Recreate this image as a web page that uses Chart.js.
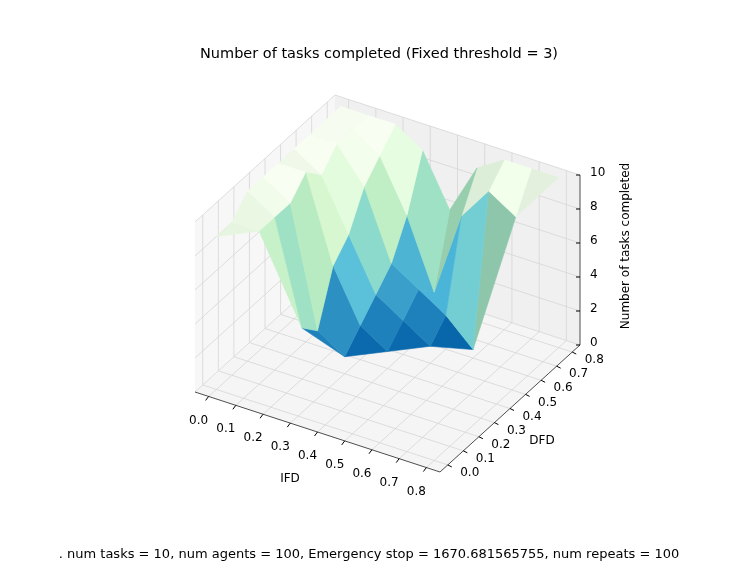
<!DOCTYPE html>
<html>
<head>
<meta charset="utf-8">
<script src="https://cdn.jsdelivr.net/npm/chart.js@4"></script>
<style>
  body { margin: 0; background: #fff; }
  #wrap { width: 739px; height: 561px; }
</style>
</head>
<body>
<div id="wrap"><canvas id="surf"></canvas></div>
<script>
// grid values
const ifdValues = [0.0, 0.1, 0.2, 0.3, 0.4, 0.5, 0.6, 0.7, 0.8];
const dfdValues = [0.0, 0.1, 0.2, 0.3, 0.4, 0.5, 0.6, 0.7, 0.8];
// tasks completed, rows = DFD, columns = IFD (only IFD <= DFD measured)
const tasksDone = [
    [9],
    [9, 9],
    [10, 9, 3],
    [10, 9, 2, 1],
    [10, 10, 5, 2, 1],
    [10, 9, 6, 3, 2, 1],
    [10, 10, 8, 4, 3, 2, 0.5],
    [10, 10, 9, 6, 2, 7, 9, 8],
    [10, 10, 10, 9, 6, 9, 10, 10, 10]
];
const ifdTicks = ['0.0', '0.1', '0.2', '0.3', '0.4', '0.5', '0.6', '0.7', '0.8'];
const dfdTicks = ['0.0', '0.1', '0.2', '0.3', '0.4', '0.5', '0.6', '0.7', '0.8'];
const zTicks = [0, 2, 4, 6, 8, 10];

// box ranges
const xr = [-0.05, 0.85], yr = [-0.05, 0.85], zr = [0, 10];
const origin = [195, 392], ex = [245, 80], ey = [140, -127], ez = [0, -170];

function proj(x, y, z) {
    const u = (x - xr[0]) / (xr[1] - xr[0]);
    const v = (y - yr[0]) / (yr[1] - yr[0]);
    const w = (z - zr[0]) / (zr[1] - zr[0]);
    return { x: origin[0] + u * ex[0] + v * ey[0] + w * ez[0],
             y: origin[1] + u * ex[1] + v * ey[1] + w * ez[1] };
}

// GnBu reversed
const cmap = [[8,64,129],[8,104,172],[43,140,190],[78,179,211],[123,204,196],[168,221,181],[204,235,197],[224,243,219],[247,252,240]];
function colorFor(z, shade) {
    const t = Math.max(0, Math.min(1, z / 10)) * (cmap.length - 1);
    const i = Math.min(cmap.length - 2, Math.floor(t)), f = t - i;
    const c = cmap[i].map((a, k) => (a + (cmap[i + 1][k] - a) * f) * shade);
    return 'rgb(' + c.map(v => Math.round(Math.min(255, v))).join(',') + ')';
}

// build faces
const faces = [];
function addFace(corners) {
    const zs = corners.map(c => tasksDone[c[1]][c[0]]);
    if (zs.some(z => z === undefined)) return;
    const avg = zs.reduce((a, b) => a + b, 0) / zs.length;
    const a = corners[0], b = corners[1], c = corners[2];
    const dzx = (tasksDone[b[1]][b[0]] - tasksDone[a[1]][a[0]]) * (b[0] !== a[0] ? 1 : 0);
    const dzy = (tasksDone[c[1]][c[0]] - tasksDone[b[1]][b[0]]) * (c[1] !== b[1] ? 1 : 0);
    const shade = Math.max(0.92, Math.min(1.05, 1 - dzx * 0.015 + dzy * 0.01));
    const cx = corners.reduce((s, p) => s + p[0], 0) / corners.length;
    const cy = corners.reduce((s, p) => s + p[1], 0) / corners.length;
    faces.push({
        depth: 0.5 * cx - 0.866 * cy,
        color: colorFor(avg, shade),
        pts: corners.map(p => proj(ifdValues[p[0]], dfdValues[p[1]], tasksDone[p[1]][p[0]]))
    });
}
for (let j = 0; j < dfdValues.length - 1; j++) {
    for (let i = 0; i <= j; i++) {
        if (i < j) addFace([[i, j], [i + 1, j], [i + 1, j + 1], [i, j + 1]]);
        else addFace([[i, j], [i + 1, j + 1], [i, j + 1]]);
    }
}
faces.sort((a, b) => a.depth - b.depth);

const datasets = faces.map(f => ({
    data: f.pts.concat([f.pts[0]]),
    showLine: true,
    fill: 'shape',
    backgroundColor: f.color,
    borderColor: f.color,
    borderWidth: 0.6,
    pointRadius: 0,
    tension: 0
}));

function line(ctx, sx, sy, a, b) {
    ctx.beginPath();
    ctx.moveTo(sx(a.x), sy(a.y));
    ctx.lineTo(sx(b.x), sy(b.y));
    ctx.stroke();
}
function poly(ctx, sx, sy, pts, fill) {
    ctx.beginPath();
    pts.forEach((p, k) => k ? ctx.lineTo(sx(p.x), sy(p.y)) : ctx.moveTo(sx(p.x), sy(p.y)));
    ctx.closePath();
    ctx.fillStyle = fill;
    ctx.fill();
}

const boxPlugin = {
    id: 'box3d',
    beforeDatasetsDraw(chart) {
        const ctx = chart.ctx;
        const sx = v => chart.scales.x.getPixelForValue(v);
        const sy = v => chart.scales.y.getPixelForValue(v);
        ctx.save();
        // panes
        poly(ctx, sx, sy, [proj(xr[0], yr[0], 0), proj(xr[1], yr[0], 0), proj(xr[1], yr[1], 0), proj(xr[0], yr[1], 0)], '#f5f5f5');
        poly(ctx, sx, sy, [proj(xr[0], yr[0], 0), proj(xr[0], yr[1], 0), proj(xr[0], yr[1], 10), proj(xr[0], yr[0], 10)], '#f7f7f7');
        poly(ctx, sx, sy, [proj(xr[0], yr[1], 0), proj(xr[1], yr[1], 0), proj(xr[1], yr[1], 10), proj(xr[0], yr[1], 10)], '#f0f0f0');
        ctx.strokeStyle = '#d6d6d6';
        ctx.lineWidth = 0.8;
        ifdValues.forEach(v => {
            line(ctx, sx, sy, proj(v, yr[0], 0), proj(v, yr[1], 0));
            line(ctx, sx, sy, proj(v, yr[1], 0), proj(v, yr[1], 10));
        });
        dfdValues.forEach(v => {
            line(ctx, sx, sy, proj(xr[0], v, 0), proj(xr[1], v, 0));
            line(ctx, sx, sy, proj(xr[0], v, 0), proj(xr[0], v, 10));
        });
        zTicks.forEach(z => {
            line(ctx, sx, sy, proj(xr[0], yr[0], z), proj(xr[0], yr[1], z));
            line(ctx, sx, sy, proj(xr[0], yr[1], z), proj(xr[1], yr[1], z));
        });
        // axis edges
        ctx.strokeStyle = '#222';
        ctx.lineWidth = 0.8;
        line(ctx, sx, sy, proj(xr[0], yr[0], 0), proj(xr[1], yr[0], 0));
        line(ctx, sx, sy, proj(xr[1], yr[0], 0), proj(xr[1], yr[1], 0));
        line(ctx, sx, sy, proj(xr[1], yr[1], 0), proj(xr[1], yr[1], 10));
        ctx.restore();
    },
    afterDraw(chart) {
        const ctx = chart.ctx;
        const sx = v => chart.scales.x.getPixelForValue(v);
        const sy = v => chart.scales.y.getPixelForValue(v);
        ctx.save();
        ctx.fillStyle = '#000';
        ctx.strokeStyle = '#000';
        ctx.font = '12px "DejaVu Sans"';
        ctx.textBaseline = 'middle';
        ctx.textAlign = 'center';
        ifdValues.forEach((v, k) => {
            const p = proj(v, yr[0], 0);
            ctx.beginPath();
            ctx.moveTo(sx(p.x), sy(p.y));
            ctx.lineTo(sx(p.x) - 3, sy(p.y) + 4);
            ctx.stroke();
            ctx.fillText(ifdTicks[k], sx(p.x) - 10, sy(p.y) + 24);
        });
        dfdValues.forEach((v, k) => {
            const p = proj(xr[1], v, 0);
            ctx.beginPath();
            ctx.moveTo(sx(p.x), sy(p.y));
            ctx.lineTo(sx(p.x) + 4, sy(p.y) + 2);
            ctx.stroke();
            ctx.fillText(dfdTicks[k], sx(p.x) + 22, sy(p.y) + 8);
        });
        ctx.textAlign = 'left';
        zTicks.forEach(z => {
            const p = proj(xr[1], yr[1], z);
            ctx.beginPath();
            ctx.moveTo(sx(p.x), sy(p.y));
            ctx.lineTo(sx(p.x) - 4, sy(p.y));
            ctx.stroke();
            ctx.fillText(String(z), sx(p.x) + 10, sy(p.y) - 2);
        });
        ctx.textAlign = 'center';
        ctx.fillText('IFD', 290, 479);
        ctx.fillText('DFD', 542, 441);
        ctx.save();
        ctx.translate(626, 246);
        ctx.rotate(-Math.PI / 2);
        ctx.fillText('Number of tasks completed', 0, 0);
        ctx.restore();
        ctx.font = '14.5px "DejaVu Sans"';
        ctx.fillText('Number of tasks completed (Fixed threshold = 3)', 379, 54);
        ctx.font = '13px "DejaVu Sans"';
        ctx.fillText('. num tasks = 10, num agents = 100, Emergency stop = 1670.681565755, num repeats = 100', 369, 555);
        ctx.restore();
    }
};

new Chart(document.getElementById('surf'), {
    type: 'scatter',
    data: { datasets: datasets },
    options: {
        responsive: true,
        maintainAspectRatio: false,
        animation: false,
        events: [],
        layout: { padding: 0 },
        plugins: { legend: { display: false }, tooltip: { enabled: false } },
        scales: {
            x: { type: 'linear', min: 0, max: 739, display: false },
            y: { type: 'linear', min: 0, max: 561, reverse: true, display: false }
        }
    },
    plugins: [boxPlugin]
});
</script>
</body>
</html>
